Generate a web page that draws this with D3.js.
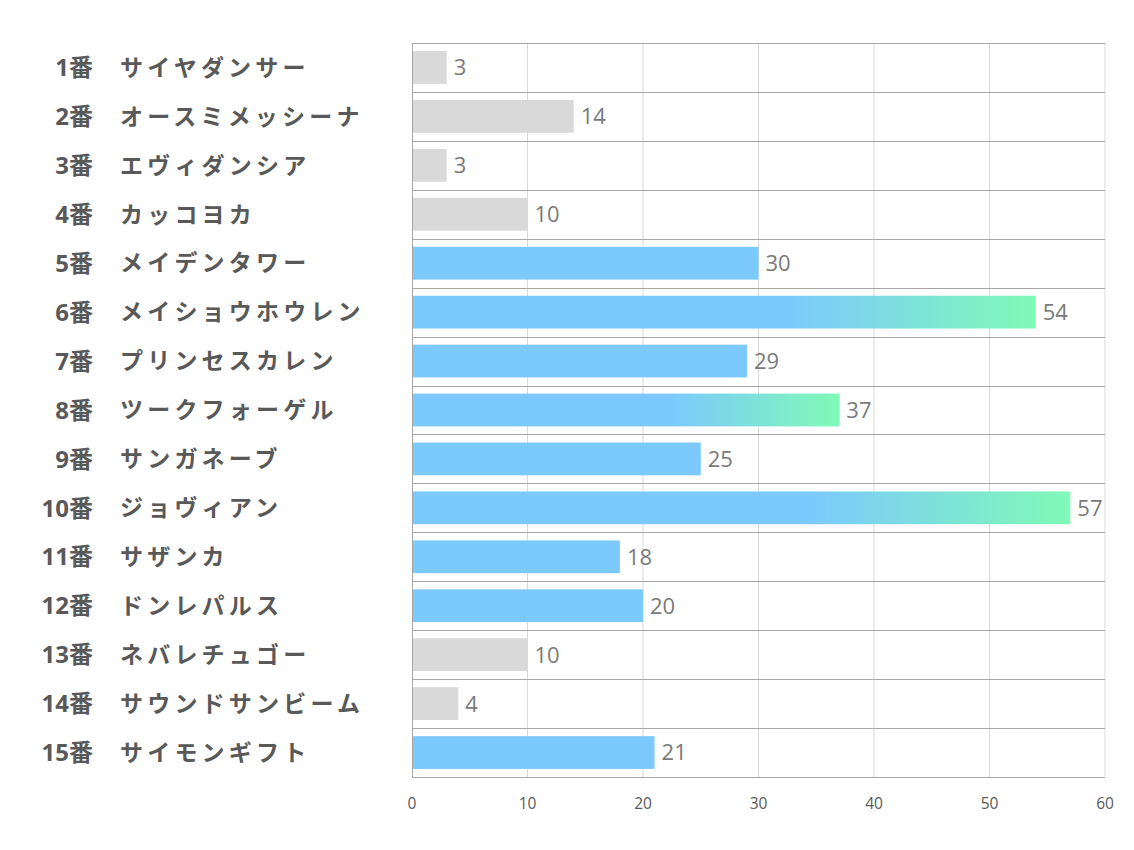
<!DOCTYPE html>
<html>
<head>
<meta charset="utf-8">
<script src="https://cdn.jsdelivr.net/npm/d3@7"></script>
<style>
  body { margin: 0; background: #fff; }
  svg { display: block; }
</style>
</head>
<body>
<svg width="1134" height="850"></svg>
<script>
// horse numbers and names
const numbers = ["1番", "2番", "3番", "4番", "5番", "6番", "7番", "8番", "9番", "10番", "11番", "12番", "13番", "14番", "15番"];
const names = ["サイヤダンサー", "オースミメッシーナ", "エヴィダンシア", "カッコヨカ", "メイデンタワー", "メイショウホウレン", "プリンセスカレン", "ツークフォーゲル", "サンガネーブ", "ジョヴィアン", "サザンカ", "ドンレパルス", "ネバレチュゴー", "サウンドサンビーム", "サイモンギフト"];
const values = [3, 14, 3, 10, 30, 54, 29, 37, 25, 57, 18, 20, 10, 4, 21];
// bar style per row: g = gray, b = blue, gr = blue->green gradient
const kinds = ["g", "g", "g", "g", "b", "gr", "b", "gr", "b", "gr", "b", "b", "g", "g", "b"];
const xTicks = [0, 10, 20, 30, 40, 50, 60];

const svg = d3.select("svg");
const plotL = 412, plotR = 1105, plotT = 43, plotB = 777;

const x = d3.scaleLinear().domain([0, 60]).range([plotL, plotR]);
const y = d3.scaleBand().domain(d3.range(values.length)).range([plotT, plotB]).paddingInner(0.33).paddingOuter(0.165);
const rowY = d3.scaleBand().domain(d3.range(values.length)).range([plotT, plotB]);

// gradient for the highlighted bars
const grad = svg.append("defs").append("linearGradient")
    .attr("id", "bluegreen")
    .attr("x1", "0").attr("x2", "1").attr("y1", "0").attr("y2", "0");
grad.append("stop").attr("offset", "0.6").attr("stop-color", "#7cc9fd");
grad.append("stop").attr("offset", "1").attr("stop-color", "#7ffab6");

// vertical grid lines
svg.append("g").selectAll("line")
   .data(xTicks.slice(1))
   .enter().append("line")
   .attr("x1", d => x(d)).attr("x2", d => x(d))
   .attr("y1", plotT).attr("y2", plotB)
   .attr("stroke", "#d9d9d9").attr("stroke-width", 1);

// horizontal row separators
svg.append("g").selectAll("line")
   .data(d3.range(values.length + 1))
   .enter().append("line")
   .attr("x1", plotL).attr("x2", plotR)
   .attr("y1", d => Math.round(plotT + d * rowY.step()) + 0.5)
   .attr("y2", d => Math.round(plotT + d * rowY.step()) + 0.5)
   .attr("stroke", "#a6a6a6").attr("stroke-width", 1);

// left axis line
svg.append("line")
   .attr("x1", plotL + 0.5).attr("x2", plotL + 0.5)
   .attr("y1", plotT).attr("y2", plotB)
   .attr("stroke", "#a6a6a6");

// bars
svg.append("g").selectAll("rect")
   .data(values)
   .enter().append("rect")
   .attr("x", x(0) + 1)
   .attr("y", (d, i) => y(i))
   .attr("width", d => x(d) - x(0) - 1)
   .attr("height", y.bandwidth())
   .attr("fill", (d, i) => kinds[i] === "g" ? "#d9d9d9" : kinds[i] === "b" ? "#7cc9fd" : "url(#bluegreen)");

// value labels
svg.append("g").selectAll("text")
   .data(values)
   .enter().append("text")
   .attr("x", d => x(d) + 7)
   .attr("y", (d, i) => y(i) + y.bandwidth() / 2)
   .attr("dy", "0.36em")
   .attr("font-family", "'Open Sans', 'Noto Sans', sans-serif")
   .attr("font-size", 22)
   .attr("fill", "#7a7a7a")
   .text(d => d);

// row labels: number
svg.append("g").selectAll("text")
   .data(numbers)
   .enter().append("text")
   .attr("x", 93)
   .attr("y", (d, i) => rowY(i) + rowY.bandwidth() / 2)
   .attr("dy", "0.36em")
   .attr("text-anchor", "end")
   .attr("font-family", "'Open Sans', 'Noto Sans CJK JP', sans-serif")
   .attr("font-weight", "bold")
   .attr("font-size", 24)
   .attr("fill", "#595959")
   .text(d => d);

// row labels: name
svg.append("g").selectAll("text")
   .data(names)
   .enter().append("text")
   .attr("x", 120)
   .attr("y", (d, i) => rowY(i) + rowY.bandwidth() / 2)
   .attr("dy", "0.36em")
   .attr("font-family", "'Noto Sans CJK JP', sans-serif")
   .attr("font-weight", "bold")
   .attr("font-size", 23)
   .attr("letter-spacing", 4.2)
   .attr("fill", "#595959")
   .text(d => d);

// x axis tick labels
svg.append("g").selectAll("text")
   .data(xTicks)
   .enter().append("text")
   .attr("x", d => x(d))
   .attr("y", 803)
   .attr("dy", "0.36em")
   .attr("text-anchor", "middle")
   .attr("font-family", "'Open Sans', 'Noto Sans', sans-serif")
   .attr("font-size", 15.5)
   .attr("fill", "#595959")
   .text(d => d);
</script>
</body>
</html>
